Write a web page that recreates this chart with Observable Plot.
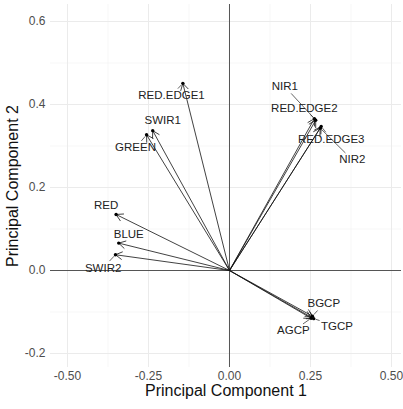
<!DOCTYPE html>
<html>
<head>
<meta charset="utf-8">
<script src="https://cdn.jsdelivr.net/npm/d3@7"></script>
<script src="https://cdn.jsdelivr.net/npm/@observablehq/plot@0.6"></script>
<style>
  html, body { margin: 0; padding: 0; background: #fff; }
  #chart { width: 403px; height: 409px; }
</style>
</head>
<body>
<div id="chart"></div>
<script>
// Variable names and loadings
const variables = ["RED.EDGE1", "SWIR1", "GREEN", "RED", "BLUE", "SWIR2",
  "NIR1", "RED.EDGE2", "RED.EDGE3", "NIR2", "BGCP", "TGCP", "AGCP"];
const pc1 = [-0.144, -0.237, -0.256, -0.350, -0.342, -0.352,
  0.262, 0.266, 0.283, 0.280, 0.256, 0.260, 0.252];
const pc2 = [0.451, 0.337, 0.327, 0.135, 0.066, 0.038,
  0.366, 0.362, 0.347, 0.343, -0.110, -0.116, -0.115];
// Label anchor positions (repelled text), in component units
const labelPC1 = [-0.179, -0.206, -0.290, -0.381, -0.311, -0.390,
  0.171, 0.231, 0.314, 0.379, 0.291, 0.332, 0.197];
const labelPC2 = [0.422, 0.361, 0.296, 0.157, 0.088, 0.0065,
  0.443, 0.392, 0.317, 0.267, -0.080, -0.134, -0.145];

const xTicks = [-0.5, -0.25, 0, 0.25, 0.5];
const xMinor = [-0.375, -0.125, 0.125, 0.375];
const yTicks = [-0.2, 0, 0.2, 0.4, 0.6];
const yMinor = [-0.1, 0.1, 0.3, 0.5];

const W = 403, H = 409, ML = 50, MR = 2, MT = 4, MB = 42;
const xDomain = [-0.5525, 0.5309];
const yDomain = [-0.2337, 0.641];
const kx = (W - ML - MR) / (xDomain[1] - xDomain[0]);
const ky = (H - MT - MB) / (yDomain[1] - yDomain[0]);

const labelFont = 11.5;
const ctx = document.createElement("canvas").getContext("2d");
ctx.font = `${labelFont}px "Liberation Sans", Arial, sans-serif`;

const data = variables.map((name, i) => ({
  name, pc1: pc1[i], pc2: pc2[i], lx: labelPC1[i], ly: labelPC2[i]
}));

// leader segments from label box edge to point (ggrepel-like)
const leaders = [];
for (const d of data) {
  const hw = ctx.measureText(d.name).width / 2 + 1.5;
  const hh = labelFont * 0.5 + 1;
  const dxp = (d.pc1 - d.lx) * kx, dyp = -(d.pc2 - d.ly) * ky;
  const len = Math.hypot(dxp, dyp);
  const t = Math.min(dxp !== 0 ? hw / Math.abs(dxp) : Infinity, dyp !== 0 ? hh / Math.abs(dyp) : Infinity);
  if (t >= 1) continue;
  const sx = dxp * t, sy = dyp * t;
  const pad = 2;
  const ex = dxp * (1 - pad / len), ey = dyp * (1 - pad / len);
  if (Math.hypot(ex - sx, ey - sy) < 3) continue;
  leaders.push({
    x1: d.lx + sx / kx, y1: d.ly - sy / ky,
    x2: d.lx + ex / kx, y2: d.ly - ey / ky
  });
}

const fmtX = d => d.toFixed(2);
const fmtY = d => d.toFixed(1);

const chart = Plot.plot({
  width: W, height: H,
  marginLeft: ML, marginRight: MR, marginTop: MT, marginBottom: MB,
  style: { fontFamily: '"Liberation Sans", Arial, sans-serif', background: "#fff", overflow: "visible" },
  x: { domain: xDomain, axis: null },
  y: { domain: yDomain, axis: null },
  marks: [
    Plot.gridX(xMinor, { stroke: "#f2f2f2", strokeOpacity: 1, strokeWidth: 0.6 }),
    Plot.gridY(yMinor, { stroke: "#f2f2f2", strokeOpacity: 1, strokeWidth: 0.6 }),
    Plot.gridX(xTicks, { stroke: "#ebebeb", strokeOpacity: 1, strokeWidth: 1 }),
    Plot.gridY(yTicks, { stroke: "#ebebeb", strokeOpacity: 1, strokeWidth: 1 }),
    Plot.ruleX([0], { stroke: "#555", strokeWidth: 1 }),
    Plot.ruleY([0], { stroke: "#555", strokeWidth: 1 }),
    Plot.text(xTicks, { x: d => d, frameAnchor: "bottom", dy: 12, text: fmtX, fontSize: 12, fill: "#4d4d4d" }),
    Plot.text(yTicks, { y: d => d, frameAnchor: "left", dx: -5, textAnchor: "end", text: fmtY, fontSize: 12, fill: "#4d4d4d" }),
    Plot.text(["Principal Component 1"], { frameAnchor: "bottom", dy: 28, text: d => d, fontSize: 16, fill: "#111" }),
    Plot.text(["Principal Component 2"], { frameAnchor: "left", dx: -38, rotate: -90, textAnchor: "middle", text: d => d, fontSize: 16, fill: "#111" }),
    Plot.arrow(data, { x1: () => 0, y1: () => 0, x2: "pc1", y2: "pc2", stroke: "#111", strokeWidth: 0.8, headLength: 14, headAngle: 60 }),
    Plot.dot(data, { x: "pc1", y: "pc2", r: 1.7, fill: "#000" }),
    Plot.link(leaders, { x1: "x1", y1: "y1", x2: "x2", y2: "y2", stroke: "#222", strokeWidth: 0.7 }),
    Plot.text(data, { x: "lx", y: "ly", text: "name", fontSize: labelFont, fill: "#222" })
  ]
});
document.getElementById("chart").appendChild(chart);
</script>
</body>
</html>
